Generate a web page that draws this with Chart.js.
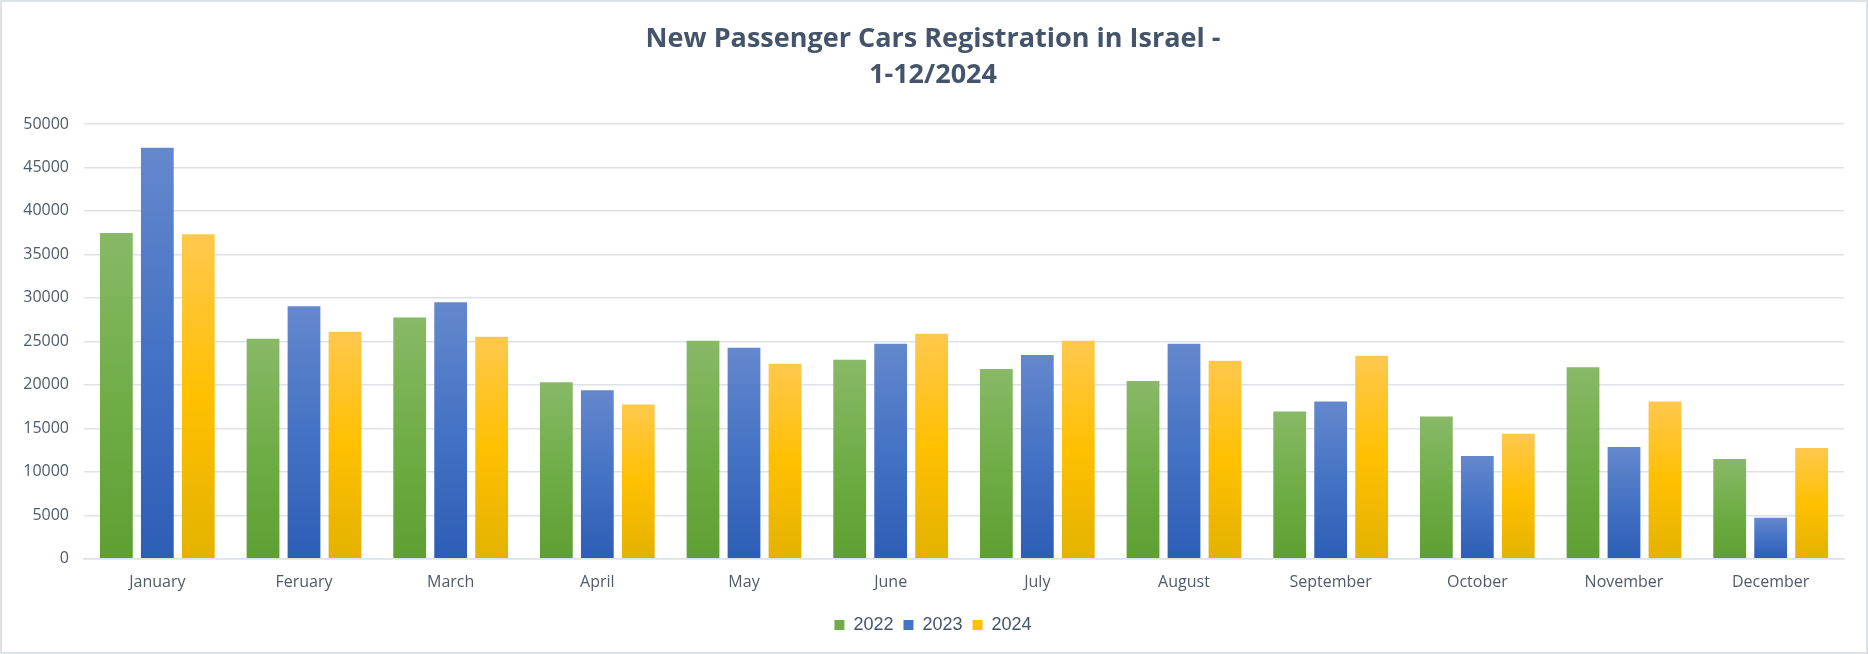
<!DOCTYPE html>
<html>
<head>
<meta charset="utf-8">
<script src="https://cdn.jsdelivr.net/npm/chart.js@4.4.1/dist/chart.umd.min.js"></script>
<style>
  body { margin: 0; background: #fff; }
  #wrap { width: 1864px; height: 650px; border: 2px solid #DEE2E6; }
</style>
</head>
<body>
<div id="wrap"><canvas id="regChart" width="1864" height="650"></canvas></div>
<script>
// monthly new passenger car registrations
var months = ['January', 'Feruary', 'March', 'April', 'May', 'June', 'July', 'August', 'September', 'October', 'November', 'December'];
var years = ['2022', '2023', '2024'];
var regs2022 = [37450, 25310, 27740, 20310, 25080, 22890, 21820, 20430, 16930, 16350, 22010, 11470];
var regs2023 = [47260, 29040, 29500, 19370, 24270, 24740, 23440, 24740, 18080, 11810, 12860, 4730];
var regs2024 = [37330, 26120, 25540, 17750, 22420, 25890, 25080, 22770, 23350, 14390, 18080, 12740];

// top / middle / bottom colours of the office style gradient
var shades = [
    ['#88B967', '#70AD47', '#5E9F32'],
    ['#6488CD', '#4472C4', '#2E5DB6'],
    ['#FFC84D', '#FFC000', '#E3B200']
];

function barFill(i) {
    return function(c) {
        var chart = c.chart;
        if (c.type !== 'data' || !chart.chartArea) return shades[i][1];
        var y = chart.scales.y;
        var top = y.getPixelForValue(c.raw);
        var bottom = y.getPixelForValue(0);
        var g = chart.ctx.createLinearGradient(0, top, 0, bottom);
        g.addColorStop(0, shades[i][0]);
        g.addColorStop(0.5, shades[i][1]);
        g.addColorStop(1, shades[i][2]);
        return g;
    };
}

document.addEventListener('DOMContentLoaded', function() {
    var ctx = document.getElementById('regChart').getContext('2d');
    var series = [regs2022, regs2023, regs2024];
    new Chart(ctx, {
        type: 'bar',
        data: {
            labels: months,
            datasets: years.map(function(y, i) {
                return {
                    label: y,
                    data: series[i],
                    backgroundColor: barFill(i),
                    barPercentage: 0.8,
                    categoryPercentage: 0.838
                };
            })
        },
        options: {
            responsive: false,
            animation: false,
            layout: { padding: { left: 20, right: 22, top: 0, bottom: 8 } },
            plugins: {
                title: {
                    display: true,
                    text: ['New Passenger Cars Registration in Israel -', '1-12/2024'],
                    color: '#44546A',
                    font: { family: 'Open Sans', size: 27, weight: 'bold', lineHeight: 1.36 },
                    padding: { top: 18.5, bottom: 30 }
                },
                legend: {
                    position: 'bottom',
                    labels: {
                        boxWidth: 10,
                        boxHeight: 10,
                        padding: 10,
                        color: '#44546A',
                        font: { family: 'Liberation Sans', size: 18 },
                        generateLabels: function(chart) {
                            var items = Chart.defaults.plugins.legend.labels.generateLabels(chart);
                            items.forEach(function(it, i) {
                                it.fillStyle = shades[i][1];
                                it.strokeStyle = shades[i][1];
                                it.lineWidth = 0;
                            });
                            return items;
                        }
                    }
                },
                tooltip: { enabled: false }
            },
            scales: {
                x: {
                    grid: { display: false, drawTicks: false },
                    border: { color: '#DEE2E8', width: 1.5 },
                    ticks: {
                        color: '#505A6A',
                        padding: 14,
                        font: { family: 'Open Sans', size: 16 }
                    }
                },
                y: {
                    min: 0,
                    max: 50000,
                    grid: { color: '#DEE2E8', lineWidth: 1.5, drawTicks: false },
                    border: { display: false },
                    ticks: {
                        stepSize: 5000,
                        color: '#505A6A',
                        padding: 15,
                        font: { family: 'Open Sans', size: 16 },
                        callback: function(v) { return String(v); }
                    },
                    afterFit: function(scale) { scale.width = 62; }
                }
            }
        }
    });
});
</script>
</body>
</html>
